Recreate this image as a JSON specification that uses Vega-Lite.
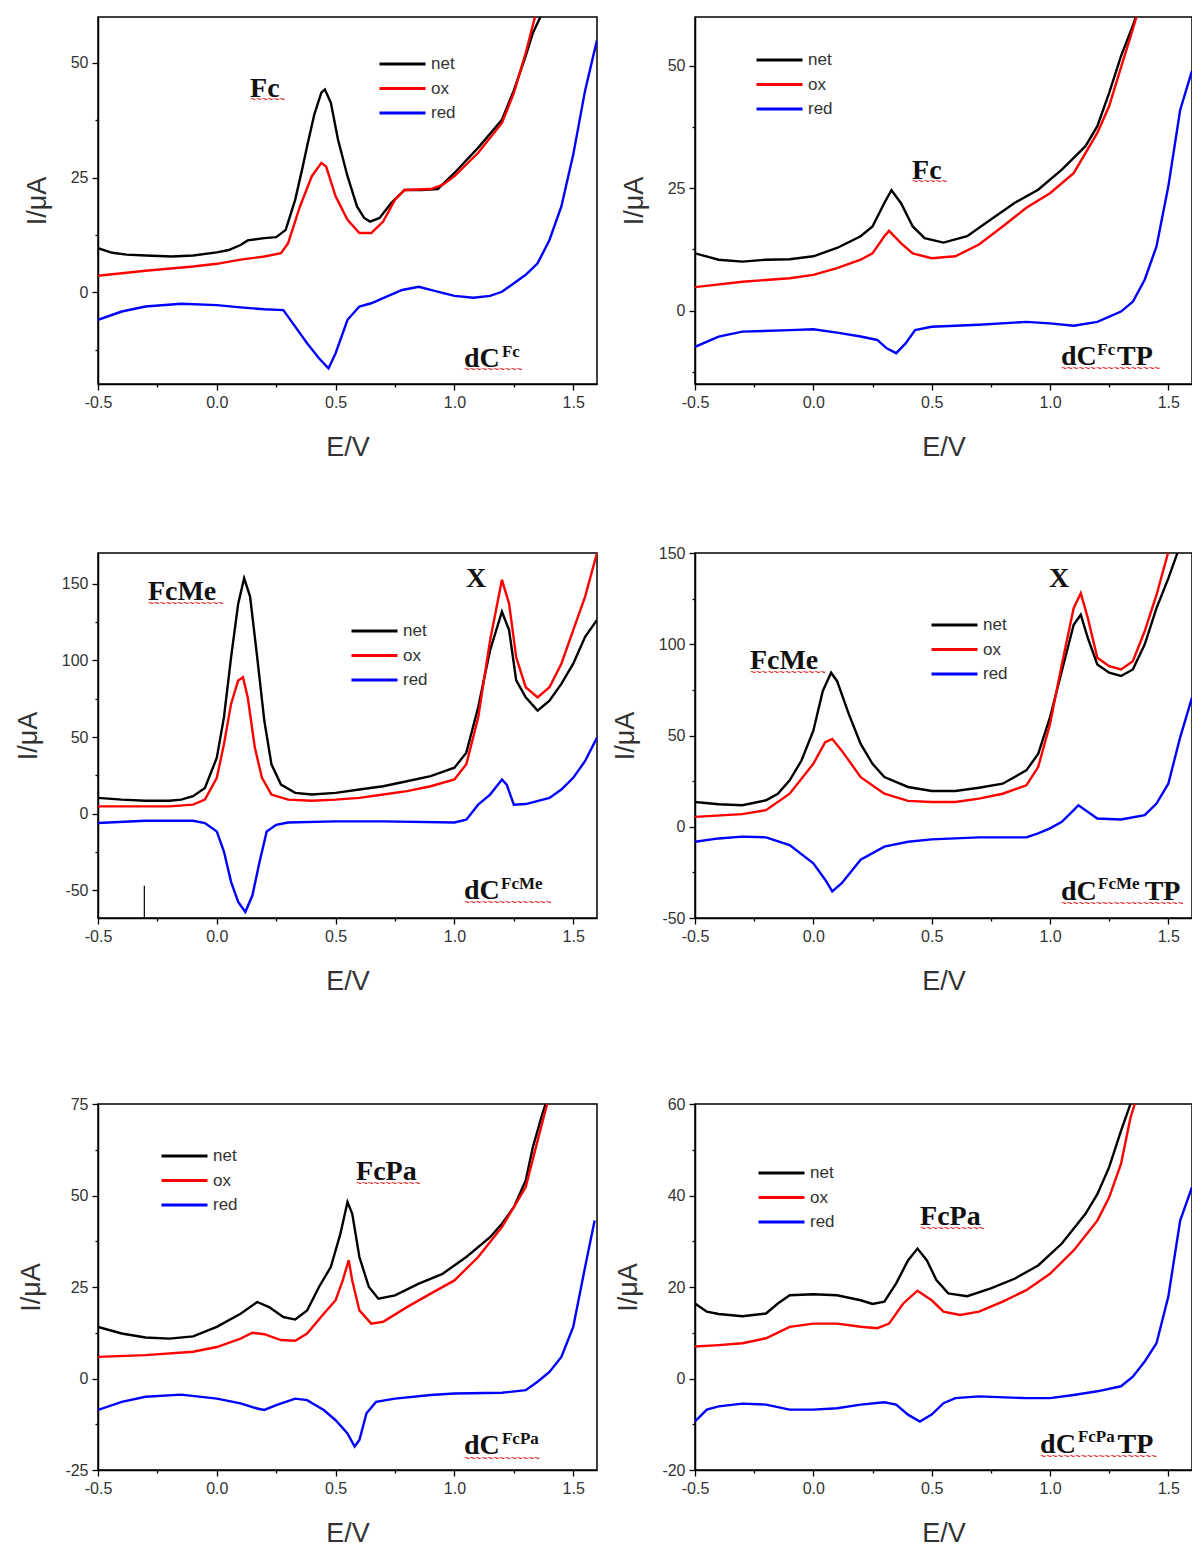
{
"$schema": "https://vega.github.io/schema/vega-lite/v6.json",
"background": "white",
"padding": {"left": 13, "top": 16, "right": 0, "bottom": 3},
"config": {
 "view": {"stroke": "#000", "strokeWidth": 1.5},
 "axis": {"grid": false, "domainColor": "#000", "domainWidth": 1.5, "tickColor": "#000", "tickWidth": 1.3, "labelFont": "Liberation Sans", "labelFontSize": 16, "labelColor": "#333", "labelPadding": 4, "labelOverlap": false, "labelFlush": false, "titleFont": "Liberation Sans", "titleFontSize": 27, "titleFontWeight": "normal", "titleColor": "#333"},
 "axisX": {"titlePadding": 24},
 "axisY": {"titlePadding": 19},
 "legend": {"labelFont": "Liberation Sans", "labelFontSize": 17, "labelColor": "#333", "symbolType": "stroke", "symbolStrokeWidth": 3, "symbolSize": 2116, "clipHeight": 17, "rowPadding": 6.5, "labelOffset": 4, "padding": 0}
},
"datasets": {
 "curves": [
  {"p":"A","s":"net","E":-0.5,"I":9.6},{"p":"A","s":"net","E":-0.44,"I":8.6},{"p":"A","s":"net","E":-0.38,"I":8.2},{"p":"A","s":"net","E":-0.3,"I":8.0},{"p":"A","s":"net","E":-0.19,"I":7.8},{"p":"A","s":"net","E":-0.1,"I":8.0},{"p":"A","s":"net","E":0.0,"I":8.7},{"p":"A","s":"net","E":0.05,"I":9.2},{"p":"A","s":"net","E":0.1,"I":10.3},{"p":"A","s":"net","E":0.13,"I":11.3},{"p":"A","s":"net","E":0.2,"I":11.8},{"p":"A","s":"net","E":0.25,"I":12.0},{"p":"A","s":"net","E":0.29,"I":13.6},{"p":"A","s":"net","E":0.33,"I":20.2},{"p":"A","s":"net","E":0.36,"I":27},{"p":"A","s":"net","E":0.38,"I":31.8},{"p":"A","s":"net","E":0.41,"I":38.7},{"p":"A","s":"net","E":0.44,"I":43.5},{"p":"A","s":"net","E":0.455,"I":44.2},{"p":"A","s":"net","E":0.48,"I":41.3},{"p":"A","s":"net","E":0.51,"I":33.3},{"p":"A","s":"net","E":0.55,"I":25.3},{"p":"A","s":"net","E":0.59,"I":18.7},{"p":"A","s":"net","E":0.62,"I":16.2},{"p":"A","s":"net","E":0.645,"I":15.4},{"p":"A","s":"net","E":0.685,"I":16.2},{"p":"A","s":"net","E":0.733,"I":19.4},{"p":"A","s":"net","E":0.79,"I":22.3},{"p":"A","s":"net","E":0.86,"I":22.3},{"p":"A","s":"net","E":0.93,"I":22.5},{"p":"A","s":"net","E":1.0,"I":26.0},{"p":"A","s":"net","E":1.105,"I":31.8},{"p":"A","s":"net","E":1.2,"I":37.6},{"p":"A","s":"net","E":1.25,"I":44},{"p":"A","s":"net","E":1.3,"I":51.5},{"p":"A","s":"net","E":1.33,"I":56.5},{"p":"A","s":"net","E":1.37,"I":60.9},{"p":"A","s":"net","E":1.4,"I":65},
  {"p":"A","s":"ox","E":-0.5,"I":3.6},{"p":"A","s":"ox","E":-0.3,"I":4.7},{"p":"A","s":"ox","E":-0.1,"I":5.6},{"p":"A","s":"ox","E":0.0,"I":6.2},{"p":"A","s":"ox","E":0.1,"I":7.1},{"p":"A","s":"ox","E":0.2,"I":7.8},{"p":"A","s":"ox","E":0.27,"I":8.5},{"p":"A","s":"ox","E":0.3,"I":10.7},{"p":"A","s":"ox","E":0.35,"I":18.7},{"p":"A","s":"ox","E":0.4,"I":25.3},{"p":"A","s":"ox","E":0.44,"I":28.2},{"p":"A","s":"ox","E":0.46,"I":27.4},{"p":"A","s":"ox","E":0.5,"I":20.9},{"p":"A","s":"ox","E":0.55,"I":15.8},{"p":"A","s":"ox","E":0.6,"I":12.9},{"p":"A","s":"ox","E":0.65,"I":12.9},{"p":"A","s":"ox","E":0.7,"I":15.4},{"p":"A","s":"ox","E":0.75,"I":20.2},{"p":"A","s":"ox","E":0.79,"I":22.3},{"p":"A","s":"ox","E":0.9,"I":22.5},{"p":"A","s":"ox","E":0.95,"I":23.4},{"p":"A","s":"ox","E":1.0,"I":25.3},{"p":"A","s":"ox","E":1.1,"I":30.4},{"p":"A","s":"ox","E":1.2,"I":36.9},{"p":"A","s":"ox","E":1.25,"I":43.4},{"p":"A","s":"ox","E":1.3,"I":52.2},{"p":"A","s":"ox","E":1.34,"I":60.2},{"p":"A","s":"ox","E":1.37,"I":65},
  {"p":"A","s":"red","E":-0.5,"I":-6.0},{"p":"A","s":"red","E":-0.4,"I":-4.2},{"p":"A","s":"red","E":-0.3,"I":-3.1},{"p":"A","s":"red","E":-0.15,"I":-2.5},{"p":"A","s":"red","E":0.0,"I":-2.8},{"p":"A","s":"red","E":0.1,"I":-3.3},{"p":"A","s":"red","E":0.2,"I":-3.7},{"p":"A","s":"red","E":0.28,"I":-3.9},{"p":"A","s":"red","E":0.33,"I":-7.5},{"p":"A","s":"red","E":0.38,"I":-11.1},{"p":"A","s":"red","E":0.43,"I":-14.4},{"p":"A","s":"red","E":0.47,"I":-16.6},{"p":"A","s":"red","E":0.5,"I":-13.3},{"p":"A","s":"red","E":0.55,"I":-6.0},{"p":"A","s":"red","E":0.6,"I":-3.1},{"p":"A","s":"red","E":0.65,"I":-2.4},{"p":"A","s":"red","E":0.7,"I":-1.3},{"p":"A","s":"red","E":0.78,"I":0.5},{"p":"A","s":"red","E":0.85,"I":1.2},{"p":"A","s":"red","E":0.9,"I":0.5},{"p":"A","s":"red","E":1.0,"I":-0.8},{"p":"A","s":"red","E":1.08,"I":-1.2},{"p":"A","s":"red","E":1.15,"I":-0.8},{"p":"A","s":"red","E":1.2,"I":0.1},{"p":"A","s":"red","E":1.3,"I":3.8},{"p":"A","s":"red","E":1.35,"I":6.3},{"p":"A","s":"red","E":1.4,"I":11.4},{"p":"A","s":"red","E":1.45,"I":18.7},{"p":"A","s":"red","E":1.5,"I":30},{"p":"A","s":"red","E":1.55,"I":44},{"p":"A","s":"red","E":1.6,"I":55},
  {"p":"B","s":"net","E":-0.5,"I":11.7},{"p":"B","s":"net","E":-0.4,"I":10.4},{"p":"B","s":"net","E":-0.3,"I":10.0},{"p":"B","s":"net","E":-0.2,"I":10.4},{"p":"B","s":"net","E":-0.1,"I":10.5},{"p":"B","s":"net","E":0.0,"I":11.1},{"p":"B","s":"net","E":0.1,"I":12.8},{"p":"B","s":"net","E":0.2,"I":15.2},{"p":"B","s":"net","E":0.25,"I":17.2},{"p":"B","s":"net","E":0.3,"I":22.0},{"p":"B","s":"net","E":0.33,"I":24.6},{"p":"B","s":"net","E":0.37,"I":22.0},{"p":"B","s":"net","E":0.42,"I":17.2},{"p":"B","s":"net","E":0.47,"I":14.8},{"p":"B","s":"net","E":0.55,"I":13.9},{"p":"B","s":"net","E":0.65,"I":15.2},{"p":"B","s":"net","E":0.75,"I":18.6},{"p":"B","s":"net","E":0.85,"I":22.0},{"p":"B","s":"net","E":0.95,"I":24.7},{"p":"B","s":"net","E":1.05,"I":28.8},{"p":"B","s":"net","E":1.15,"I":33.6},{"p":"B","s":"net","E":1.2,"I":37.7},{"p":"B","s":"net","E":1.25,"I":44.5},{"p":"B","s":"net","E":1.3,"I":52.0},{"p":"B","s":"net","E":1.35,"I":58.2},{"p":"B","s":"net","E":1.38,"I":62.5},
  {"p":"B","s":"ox","E":-0.5,"I":4.8},{"p":"B","s":"ox","E":-0.3,"I":5.9},{"p":"B","s":"ox","E":-0.1,"I":6.6},{"p":"B","s":"ox","E":0.0,"I":7.3},{"p":"B","s":"ox","E":0.1,"I":8.7},{"p":"B","s":"ox","E":0.2,"I":10.4},{"p":"B","s":"ox","E":0.25,"I":11.7},{"p":"B","s":"ox","E":0.3,"I":15.2},{"p":"B","s":"ox","E":0.32,"I":16.3},{"p":"B","s":"ox","E":0.37,"I":13.8},{"p":"B","s":"ox","E":0.42,"I":11.7},{"p":"B","s":"ox","E":0.5,"I":10.7},{"p":"B","s":"ox","E":0.6,"I":11.1},{"p":"B","s":"ox","E":0.7,"I":13.5},{"p":"B","s":"ox","E":0.8,"I":17.2},{"p":"B","s":"ox","E":0.9,"I":21.0},{"p":"B","s":"ox","E":1.0,"I":24.0},{"p":"B","s":"ox","E":1.1,"I":28.1},{"p":"B","s":"ox","E":1.2,"I":36.3},{"p":"B","s":"ox","E":1.25,"I":41.8},{"p":"B","s":"ox","E":1.3,"I":49.7},{"p":"B","s":"ox","E":1.35,"I":57.5},{"p":"B","s":"ox","E":1.38,"I":62.5},
  {"p":"B","s":"red","E":-0.5,"I":-7.4},{"p":"B","s":"red","E":-0.4,"I":-5.3},{"p":"B","s":"red","E":-0.3,"I":-4.3},{"p":"B","s":"red","E":-0.1,"I":-4.0},{"p":"B","s":"red","E":0.0,"I":-3.8},{"p":"B","s":"red","E":0.1,"I":-4.5},{"p":"B","s":"red","E":0.2,"I":-5.3},{"p":"B","s":"red","E":0.27,"I":-6.0},{"p":"B","s":"red","E":0.31,"I":-7.7},{"p":"B","s":"red","E":0.35,"I":-8.7},{"p":"B","s":"red","E":0.39,"I":-6.7},{"p":"B","s":"red","E":0.43,"I":-4.0},{"p":"B","s":"red","E":0.5,"I":-3.3},{"p":"B","s":"red","E":0.7,"I":-2.9},{"p":"B","s":"red","E":0.9,"I":-2.3},{"p":"B","s":"red","E":1.0,"I":-2.6},{"p":"B","s":"red","E":1.1,"I":-3.1},{"p":"B","s":"red","E":1.2,"I":-2.3},{"p":"B","s":"red","E":1.3,"I":-0.2},{"p":"B","s":"red","E":1.35,"I":1.8},{"p":"B","s":"red","E":1.4,"I":6.3},{"p":"B","s":"red","E":1.45,"I":13.1},{"p":"B","s":"red","E":1.5,"I":25.4},{"p":"B","s":"red","E":1.55,"I":41},{"p":"B","s":"red","E":1.6,"I":49},
  {"p":"C","s":"net","E":-0.5,"I":10.3},{"p":"C","s":"net","E":-0.4,"I":9.2},{"p":"C","s":"net","E":-0.3,"I":8.5},{"p":"C","s":"net","E":-0.2,"I":8.5},{"p":"C","s":"net","E":-0.15,"I":9.2},{"p":"C","s":"net","E":-0.1,"I":11.4},{"p":"C","s":"net","E":-0.05,"I":16.8},{"p":"C","s":"net","E":0.0,"I":36.5},{"p":"C","s":"net","E":0.03,"I":62.8},{"p":"C","s":"net","E":0.06,"I":102},{"p":"C","s":"net","E":0.09,"I":137},{"p":"C","s":"net","E":0.115,"I":153.6},{"p":"C","s":"net","E":0.14,"I":141.6},{"p":"C","s":"net","E":0.17,"I":102},{"p":"C","s":"net","E":0.2,"I":60.6},{"p":"C","s":"net","E":0.23,"I":32.2},{"p":"C","s":"net","E":0.27,"I":19},{"p":"C","s":"net","E":0.33,"I":13.6},{"p":"C","s":"net","E":0.4,"I":12.5},{"p":"C","s":"net","E":0.5,"I":13.6},{"p":"C","s":"net","E":0.6,"I":15.8},{"p":"C","s":"net","E":0.7,"I":17.9},{"p":"C","s":"net","E":0.8,"I":21.2},{"p":"C","s":"net","E":0.9,"I":24.5},{"p":"C","s":"net","E":1.0,"I":30},{"p":"C","s":"net","E":1.05,"I":39.8},{"p":"C","s":"net","E":1.1,"I":69.4},{"p":"C","s":"net","E":1.15,"I":106.6},{"p":"C","s":"net","E":1.2,"I":131.7},{"p":"C","s":"net","E":1.23,"I":119.7},{"p":"C","s":"net","E":1.26,"I":86.9},{"p":"C","s":"net","E":1.3,"I":75.9},{"p":"C","s":"net","E":1.35,"I":67.2},{"p":"C","s":"net","E":1.4,"I":73.7},{"p":"C","s":"net","E":1.45,"I":84.7},{"p":"C","s":"net","E":1.5,"I":97.8},{"p":"C","s":"net","E":1.55,"I":115.3},{"p":"C","s":"net","E":1.6,"I":126.3},
  {"p":"C","s":"ox","E":-0.5,"I":4.8},{"p":"C","s":"ox","E":-0.2,"I":4.8},{"p":"C","s":"ox","E":-0.1,"I":5.9},{"p":"C","s":"ox","E":-0.05,"I":9.2},{"p":"C","s":"ox","E":0.0,"I":23.4},{"p":"C","s":"ox","E":0.03,"I":45.3},{"p":"C","s":"ox","E":0.06,"I":71.6},{"p":"C","s":"ox","E":0.09,"I":86.9},{"p":"C","s":"ox","E":0.11,"I":89},{"p":"C","s":"ox","E":0.13,"I":75.9},{"p":"C","s":"ox","E":0.16,"I":43.1},{"p":"C","s":"ox","E":0.19,"I":23.4},{"p":"C","s":"ox","E":0.23,"I":12.5},{"p":"C","s":"ox","E":0.3,"I":9.2},{"p":"C","s":"ox","E":0.4,"I":8.5},{"p":"C","s":"ox","E":0.5,"I":9.2},{"p":"C","s":"ox","E":0.6,"I":10.3},{"p":"C","s":"ox","E":0.7,"I":12.5},{"p":"C","s":"ox","E":0.8,"I":14.7},{"p":"C","s":"ox","E":0.9,"I":17.9},{"p":"C","s":"ox","E":1.0,"I":22.3},{"p":"C","s":"ox","E":1.05,"I":32.2},{"p":"C","s":"ox","E":1.1,"I":62.8},{"p":"C","s":"ox","E":1.15,"I":113},{"p":"C","s":"ox","E":1.2,"I":152.5},{"p":"C","s":"ox","E":1.23,"I":137},{"p":"C","s":"ox","E":1.26,"I":102},{"p":"C","s":"ox","E":1.3,"I":82.5},{"p":"C","s":"ox","E":1.35,"I":75.9},{"p":"C","s":"ox","E":1.4,"I":82.5},{"p":"C","s":"ox","E":1.45,"I":97.8},{"p":"C","s":"ox","E":1.5,"I":119.7},{"p":"C","s":"ox","E":1.55,"I":141.6},{"p":"C","s":"ox","E":1.6,"I":170},
  {"p":"C","s":"red","E":-0.5,"I":-6.1},{"p":"C","s":"red","E":-0.3,"I":-4.6},{"p":"C","s":"red","E":-0.1,"I":-4.6},{"p":"C","s":"red","E":-0.05,"I":-6.1},{"p":"C","s":"red","E":0.0,"I":-11.6},{"p":"C","s":"red","E":0.03,"I":-24.7},{"p":"C","s":"red","E":0.06,"I":-44.4},{"p":"C","s":"red","E":0.09,"I":-57.5},{"p":"C","s":"red","E":0.12,"I":-64.1},{"p":"C","s":"red","E":0.15,"I":-53.2},{"p":"C","s":"red","E":0.18,"I":-31.3},{"p":"C","s":"red","E":0.21,"I":-11.6},{"p":"C","s":"red","E":0.25,"I":-7.2},{"p":"C","s":"red","E":0.3,"I":-5.7},{"p":"C","s":"red","E":0.5,"I":-5},{"p":"C","s":"red","E":0.7,"I":-5},{"p":"C","s":"red","E":1.0,"I":-5.7},{"p":"C","s":"red","E":1.05,"I":-3.9},{"p":"C","s":"red","E":1.1,"I":5.9},{"p":"C","s":"red","E":1.15,"I":12.5},{"p":"C","s":"red","E":1.2,"I":22.3},{"p":"C","s":"red","E":1.22,"I":19},{"p":"C","s":"red","E":1.25,"I":5.9},{"p":"C","s":"red","E":1.3,"I":6.3},{"p":"C","s":"red","E":1.4,"I":10.3},{"p":"C","s":"red","E":1.45,"I":15.8},{"p":"C","s":"red","E":1.5,"I":23.4},{"p":"C","s":"red","E":1.55,"I":34.4},{"p":"C","s":"red","E":1.6,"I":49.7},
  {"p":"D","s":"net","E":-0.5,"I":13.6},{"p":"D","s":"net","E":-0.4,"I":12.3},{"p":"D","s":"net","E":-0.3,"I":11.8},{"p":"D","s":"net","E":-0.2,"I":14.5},{"p":"D","s":"net","E":-0.15,"I":18.1},{"p":"D","s":"net","E":-0.1,"I":25.4},{"p":"D","s":"net","E":-0.05,"I":36.3},{"p":"D","s":"net","E":0.0,"I":52.6},{"p":"D","s":"net","E":0.04,"I":74.4},{"p":"D","s":"net","E":0.075,"I":84.4},{"p":"D","s":"net","E":0.1,"I":79.9},{"p":"D","s":"net","E":0.15,"I":61.7},{"p":"D","s":"net","E":0.2,"I":45.4},{"p":"D","s":"net","E":0.25,"I":34.5},{"p":"D","s":"net","E":0.3,"I":27.2},{"p":"D","s":"net","E":0.4,"I":21.8},{"p":"D","s":"net","E":0.5,"I":19.6},{"p":"D","s":"net","E":0.6,"I":19.6},{"p":"D","s":"net","E":0.7,"I":21.4},{"p":"D","s":"net","E":0.8,"I":23.6},{"p":"D","s":"net","E":0.9,"I":30.9},{"p":"D","s":"net","E":0.95,"I":39.9},{"p":"D","s":"net","E":1.0,"I":59.9},{"p":"D","s":"net","E":1.05,"I":85.3},{"p":"D","s":"net","E":1.1,"I":110.7},{"p":"D","s":"net","E":1.13,"I":116.2},{"p":"D","s":"net","E":1.16,"I":103.4},{"p":"D","s":"net","E":1.2,"I":88.9},{"p":"D","s":"net","E":1.25,"I":84.4},{"p":"D","s":"net","E":1.3,"I":82.6},{"p":"D","s":"net","E":1.35,"I":86.2},{"p":"D","s":"net","E":1.4,"I":99.8},{"p":"D","s":"net","E":1.45,"I":119.8},{"p":"D","s":"net","E":1.5,"I":136.1},{"p":"D","s":"net","E":1.54,"I":150.6},{"p":"D","s":"net","E":1.56,"I":158},
  {"p":"D","s":"ox","E":-0.5,"I":5.4},{"p":"D","s":"ox","E":-0.3,"I":6.9},{"p":"D","s":"ox","E":-0.2,"I":9.1},{"p":"D","s":"ox","E":-0.1,"I":18.1},{"p":"D","s":"ox","E":0.0,"I":34.5},{"p":"D","s":"ox","E":0.05,"I":46.3},{"p":"D","s":"ox","E":0.08,"I":48.1},{"p":"D","s":"ox","E":0.12,"I":41.7},{"p":"D","s":"ox","E":0.2,"I":27.2},{"p":"D","s":"ox","E":0.3,"I":18.1},{"p":"D","s":"ox","E":0.4,"I":14.2},{"p":"D","s":"ox","E":0.5,"I":13.6},{"p":"D","s":"ox","E":0.6,"I":13.6},{"p":"D","s":"ox","E":0.7,"I":15.4},{"p":"D","s":"ox","E":0.8,"I":18.1},{"p":"D","s":"ox","E":0.9,"I":22.7},{"p":"D","s":"ox","E":0.95,"I":32.7},{"p":"D","s":"ox","E":1.0,"I":56.3},{"p":"D","s":"ox","E":1.05,"I":88.9},{"p":"D","s":"ox","E":1.1,"I":119.8},{"p":"D","s":"ox","E":1.13,"I":128},{"p":"D","s":"ox","E":1.16,"I":114.3},{"p":"D","s":"ox","E":1.2,"I":92.6},{"p":"D","s":"ox","E":1.25,"I":88},{"p":"D","s":"ox","E":1.3,"I":86.2},{"p":"D","s":"ox","E":1.35,"I":90.7},{"p":"D","s":"ox","E":1.4,"I":107.1},{"p":"D","s":"ox","E":1.45,"I":127},{"p":"D","s":"ox","E":1.5,"I":150.6},{"p":"D","s":"ox","E":1.52,"I":158},
  {"p":"D","s":"red","E":-0.5,"I":-8.2},{"p":"D","s":"red","E":-0.4,"I":-6.4},{"p":"D","s":"red","E":-0.3,"I":-5.4},{"p":"D","s":"red","E":-0.2,"I":-5.8},{"p":"D","s":"red","E":-0.1,"I":-10},{"p":"D","s":"red","E":0.0,"I":-20},{"p":"D","s":"red","E":0.05,"I":-29},{"p":"D","s":"red","E":0.08,"I":-35.4},{"p":"D","s":"red","E":0.12,"I":-30.9},{"p":"D","s":"red","E":0.2,"I":-18.1},{"p":"D","s":"red","E":0.3,"I":-10.9},{"p":"D","s":"red","E":0.4,"I":-8.2},{"p":"D","s":"red","E":0.5,"I":-6.9},{"p":"D","s":"red","E":0.7,"I":-5.8},{"p":"D","s":"red","E":0.9,"I":-5.8},{"p":"D","s":"red","E":0.95,"I":-3.6},{"p":"D","s":"red","E":1.0,"I":-0.9},{"p":"D","s":"red","E":1.05,"I":2.7},{"p":"D","s":"red","E":1.1,"I":9.1},{"p":"D","s":"red","E":1.12,"I":11.8},{"p":"D","s":"red","E":1.15,"I":9.1},{"p":"D","s":"red","E":1.2,"I":4.5},{"p":"D","s":"red","E":1.3,"I":4.0},{"p":"D","s":"red","E":1.4,"I":6.4},{"p":"D","s":"red","E":1.45,"I":12.7},{"p":"D","s":"red","E":1.5,"I":23.6},{"p":"D","s":"red","E":1.55,"I":49},{"p":"D","s":"red","E":1.6,"I":70.8},
  {"p":"E","s":"net","E":-0.5,"I":14.1},{"p":"E","s":"net","E":-0.4,"I":12.3},{"p":"E","s":"net","E":-0.3,"I":11.2},{"p":"E","s":"net","E":-0.2,"I":10.9},{"p":"E","s":"net","E":-0.1,"I":11.5},{"p":"E","s":"net","E":0.0,"I":14.1},{"p":"E","s":"net","E":0.1,"I":17.7},{"p":"E","s":"net","E":0.17,"I":20.9},{"p":"E","s":"net","E":0.22,"I":19.5},{"p":"E","s":"net","E":0.28,"I":16.8},{"p":"E","s":"net","E":0.33,"I":16.1},{"p":"E","s":"net","E":0.38,"I":18.6},{"p":"E","s":"net","E":0.43,"I":25},{"p":"E","s":"net","E":0.48,"I":30.5},{"p":"E","s":"net","E":0.52,"I":39.5},{"p":"E","s":"net","E":0.55,"I":48.2},{"p":"E","s":"net","E":0.57,"I":45},{"p":"E","s":"net","E":0.6,"I":33.2},{"p":"E","s":"net","E":0.64,"I":25},{"p":"E","s":"net","E":0.68,"I":21.8},{"p":"E","s":"net","E":0.75,"I":22.7},{"p":"E","s":"net","E":0.85,"I":25.9},{"p":"E","s":"net","E":0.95,"I":28.6},{"p":"E","s":"net","E":1.05,"I":33.2},{"p":"E","s":"net","E":1.15,"I":38.6},{"p":"E","s":"net","E":1.2,"I":42.3},{"p":"E","s":"net","E":1.25,"I":46.8},{"p":"E","s":"net","E":1.3,"I":54.1},{"p":"E","s":"net","E":1.33,"I":63.2},{"p":"E","s":"net","E":1.37,"I":72.3},{"p":"E","s":"net","E":1.41,"I":80},
  {"p":"E","s":"ox","E":-0.5,"I":5.9},{"p":"E","s":"ox","E":-0.3,"I":6.4},{"p":"E","s":"ox","E":-0.1,"I":7.3},{"p":"E","s":"ox","E":0.0,"I":8.6},{"p":"E","s":"ox","E":0.1,"I":10.9},{"p":"E","s":"ox","E":0.15,"I":12.5},{"p":"E","s":"ox","E":0.2,"I":12.1},{"p":"E","s":"ox","E":0.27,"I":10.5},{"p":"E","s":"ox","E":0.33,"I":10.3},{"p":"E","s":"ox","E":0.38,"I":12.3},{"p":"E","s":"ox","E":0.45,"I":17.7},{"p":"E","s":"ox","E":0.5,"I":21.4},{"p":"E","s":"ox","E":0.53,"I":26.8},{"p":"E","s":"ox","E":0.555,"I":32.3},{"p":"E","s":"ox","E":0.57,"I":26.8},{"p":"E","s":"ox","E":0.6,"I":18.6},{"p":"E","s":"ox","E":0.65,"I":15},{"p":"E","s":"ox","E":0.7,"I":15.5},{"p":"E","s":"ox","E":0.8,"I":19.5},{"p":"E","s":"ox","E":0.9,"I":23.2},{"p":"E","s":"ox","E":1.0,"I":26.8},{"p":"E","s":"ox","E":1.1,"I":33.2},{"p":"E","s":"ox","E":1.2,"I":41.4},{"p":"E","s":"ox","E":1.25,"I":46.8},{"p":"E","s":"ox","E":1.3,"I":52.3},{"p":"E","s":"ox","E":1.35,"I":65},{"p":"E","s":"ox","E":1.39,"I":75},{"p":"E","s":"ox","E":1.41,"I":80},
  {"p":"E","s":"red","E":-0.5,"I":-8.6},{"p":"E","s":"red","E":-0.4,"I":-6.4},{"p":"E","s":"red","E":-0.3,"I":-5},{"p":"E","s":"red","E":-0.15,"I":-4.4},{"p":"E","s":"red","E":0.0,"I":-5.5},{"p":"E","s":"red","E":0.1,"I":-6.8},{"p":"E","s":"red","E":0.17,"I":-8.2},{"p":"E","s":"red","E":0.2,"I":-8.6},{"p":"E","s":"red","E":0.25,"I":-7.3},{"p":"E","s":"red","E":0.33,"I":-5.5},{"p":"E","s":"red","E":0.38,"I":-5.9},{"p":"E","s":"red","E":0.45,"I":-8.6},{"p":"E","s":"red","E":0.5,"I":-11.4},{"p":"E","s":"red","E":0.55,"I":-15},{"p":"E","s":"red","E":0.58,"I":-18.6},{"p":"E","s":"red","E":0.6,"I":-16.8},{"p":"E","s":"red","E":0.63,"I":-9.5},{"p":"E","s":"red","E":0.67,"I":-6.4},{"p":"E","s":"red","E":0.75,"I":-5.5},{"p":"E","s":"red","E":0.9,"I":-4.5},{"p":"E","s":"red","E":1.0,"I":-4.1},{"p":"E","s":"red","E":1.2,"I":-3.9},{"p":"E","s":"red","E":1.3,"I":-3.2},{"p":"E","s":"red","E":1.35,"I":-0.9},{"p":"E","s":"red","E":1.4,"I":1.8},{"p":"E","s":"red","E":1.45,"I":5.9},{"p":"E","s":"red","E":1.5,"I":14.1},{"p":"E","s":"red","E":1.55,"I":30.5},{"p":"E","s":"red","E":1.59,"I":43.2},
  {"p":"F","s":"net","E":-0.5,"I":16.4},{"p":"F","s":"net","E":-0.45,"I":14.6},{"p":"F","s":"net","E":-0.4,"I":14.1},{"p":"F","s":"net","E":-0.3,"I":13.6},{"p":"F","s":"net","E":-0.2,"I":14.2},{"p":"F","s":"net","E":-0.15,"I":16.4},{"p":"F","s":"net","E":-0.1,"I":18.2},{"p":"F","s":"net","E":0.0,"I":18.4},{"p":"F","s":"net","E":0.1,"I":18.2},{"p":"F","s":"net","E":0.2,"I":17.1},{"p":"F","s":"net","E":0.25,"I":16.3},{"p":"F","s":"net","E":0.3,"I":16.8},{"p":"F","s":"net","E":0.35,"I":20.8},{"p":"F","s":"net","E":0.4,"I":25.8},{"p":"F","s":"net","E":0.44,"I":28.4},{"p":"F","s":"net","E":0.48,"I":25.8},{"p":"F","s":"net","E":0.52,"I":21.5},{"p":"F","s":"net","E":0.57,"I":18.6},{"p":"F","s":"net","E":0.65,"I":18},{"p":"F","s":"net","E":0.75,"I":19.7},{"p":"F","s":"net","E":0.85,"I":21.8},{"p":"F","s":"net","E":0.95,"I":24.7},{"p":"F","s":"net","E":1.05,"I":29.5},{"p":"F","s":"net","E":1.15,"I":36},{"p":"F","s":"net","E":1.2,"I":40.3},{"p":"F","s":"net","E":1.25,"I":46.2},{"p":"F","s":"net","E":1.3,"I":54.1},{"p":"F","s":"net","E":1.34,"I":60},{"p":"F","s":"net","E":1.36,"I":64},
  {"p":"F","s":"ox","E":-0.5,"I":7},{"p":"F","s":"ox","E":-0.4,"I":7.3},{"p":"F","s":"ox","E":-0.3,"I":7.7},{"p":"F","s":"ox","E":-0.2,"I":8.8},{"p":"F","s":"ox","E":-0.1,"I":11.3},{"p":"F","s":"ox","E":0.0,"I":12},{"p":"F","s":"ox","E":0.1,"I":12},{"p":"F","s":"ox","E":0.2,"I":11.3},{"p":"F","s":"ox","E":0.27,"I":11},{"p":"F","s":"ox","E":0.32,"I":12},{"p":"F","s":"ox","E":0.38,"I":16.4},{"p":"F","s":"ox","E":0.44,"I":19.2},{"p":"F","s":"ox","E":0.5,"I":17.1},{"p":"F","s":"ox","E":0.55,"I":14.6},{"p":"F","s":"ox","E":0.62,"I":13.9},{"p":"F","s":"ox","E":0.7,"I":14.6},{"p":"F","s":"ox","E":0.8,"I":16.8},{"p":"F","s":"ox","E":0.9,"I":19.3},{"p":"F","s":"ox","E":1.0,"I":22.9},{"p":"F","s":"ox","E":1.1,"I":28},{"p":"F","s":"ox","E":1.2,"I":34.5},{"p":"F","s":"ox","E":1.25,"I":39.6},{"p":"F","s":"ox","E":1.3,"I":46.9},{"p":"F","s":"ox","E":1.34,"I":57},{"p":"F","s":"ox","E":1.36,"I":60.3},{"p":"F","s":"ox","E":1.38,"I":64},
  {"p":"F","s":"red","E":-0.5,"I":-9.4},{"p":"F","s":"red","E":-0.45,"I":-6.8},{"p":"F","s":"red","E":-0.4,"I":-6.1},{"p":"F","s":"red","E":-0.3,"I":-5.5},{"p":"F","s":"red","E":-0.2,"I":-5.7},{"p":"F","s":"red","E":-0.1,"I":-6.8},{"p":"F","s":"red","E":0.0,"I":-6.8},{"p":"F","s":"red","E":0.1,"I":-6.5},{"p":"F","s":"red","E":0.2,"I":-5.7},{"p":"F","s":"red","E":0.3,"I":-5.2},{"p":"F","s":"red","E":0.35,"I":-5.7},{"p":"F","s":"red","E":0.4,"I":-7.9},{"p":"F","s":"red","E":0.45,"I":-9.4},{"p":"F","s":"red","E":0.5,"I":-7.9},{"p":"F","s":"red","E":0.55,"I":-5.4},{"p":"F","s":"red","E":0.6,"I":-4.3},{"p":"F","s":"red","E":0.7,"I":-3.9},{"p":"F","s":"red","E":0.9,"I":-4.3},{"p":"F","s":"red","E":1.0,"I":-4.3},{"p":"F","s":"red","E":1.1,"I":-3.6},{"p":"F","s":"red","E":1.2,"I":-2.8},{"p":"F","s":"red","E":1.3,"I":-1.7},{"p":"F","s":"red","E":1.35,"I":0.4},{"p":"F","s":"red","E":1.4,"I":3.7},{"p":"F","s":"red","E":1.45,"I":7.7},{"p":"F","s":"red","E":1.5,"I":17.9},{"p":"F","s":"red","E":1.55,"I":34.5},{"p":"F","s":"red","E":1.6,"I":41.8}
 ],
 "notes": [
  {"p":"A","k":"big","E":0.14,"I":42.6,"t":"Fc"},{"p":"A","k":"wave","E":0.14,"I":41.9,"t":"~~~~~~"},
  {"p":"A","k":"big","E":1.04,"I":-16.3,"t":"dC"},{"p":"A","k":"sup","E":1.2,"I":-14.1,"t":"Fc"},{"p":"A","k":"wave","E":1.04,"I":-16.9,"t":"~~~~~~~~~~"},
  {"p":"B","k":"big","E":0.417,"I":26.9,"t":"Fc"},{"p":"B","k":"wave","E":0.417,"I":26.3,"t":"~~~~~~"},
  {"p":"B","k":"big","E":1.046,"I":-11.1,"t":"dC"},{"p":"B","k":"sup","E":1.2,"I":-9.1,"t":"Fc"},{"p":"B","k":"big","E":1.283,"I":-11.1,"t":"TP"},{"p":"B","k":"wave","E":1.046,"I":-11.9,"t":"~~~~~~~~~~~~~~~~~"},
  {"p":"C","k":"big","E":-0.29,"I":139.3,"t":"FcMe"},{"p":"C","k":"wave","E":-0.29,"I":136.7,"t":"~~~~~~~~~~~~~"},{"p":"C","k":"big","E":1.049,"I":147.8,"t":"X"},
  {"p":"C","k":"big","E":1.04,"I":-55.6,"t":"dC"},{"p":"C","k":"sup","E":1.196,"I":-49.1,"t":"FcMe"},{"p":"C","k":"wave","E":1.04,"I":-58.3,"t":"~~~~~~~~~~~~~~~"},
  {"p":"D","k":"big","E":-0.268,"I":86.4,"t":"FcMe"},{"p":"D","k":"wave","E":-0.268,"I":84.2,"t":"~~~~~~~~~~~~~"},{"p":"D","k":"big","E":0.996,"I":131.4,"t":"X"},
  {"p":"D","k":"big","E":1.046,"I":-40.1,"t":"dC"},{"p":"D","k":"sup","E":1.203,"I":-34.1,"t":"FcMe"},{"p":"D","k":"big","E":1.4,"I":-40.1,"t":"TP"},{"p":"D","k":"wave","E":1.046,"I":-42.3,"t":"~~~~~~~~~~~~~~~~~~~~~"},
  {"p":"E","k":"big","E":0.586,"I":54.2,"t":"FcPa"},{"p":"E","k":"wave","E":0.586,"I":53.1,"t":"~~~~~~~~~~~"},
  {"p":"E","k":"big","E":1.04,"I":-20.6,"t":"dC"},{"p":"E","k":"sup","E":1.2,"I":-17.9,"t":"FcPa"},{"p":"E","k":"wave","E":1.04,"I":-22.0,"t":"~~~~~~~~~~~~~"},
  {"p":"F","k":"big","E":0.451,"I":33.6,"t":"FcPa"},{"p":"F","k":"wave","E":0.451,"I":32.7,"t":"~~~~~~~~~~~"},
  {"p":"F","k":"big","E":0.958,"I":-16.3,"t":"dC"},{"p":"F","k":"sup","E":1.118,"I":-13.9,"t":"FcPa"},{"p":"F","k":"big","E":1.285,"I":-16.3,"t":"TP"},{"p":"F","k":"wave","E":0.958,"I":-17.1,"t":"~~~~~~~~~~~~~~~~~~~~"}
 ],
 "marks": [{"p":"C","E":-0.305,"I":-47,"I2":-68}]
},
"spacing": 83,
"resolve": {"scale": {"color": "independent"}, "legend": {"color": "independent"}},
"vconcat": [
 {"hconcat": [
  {"width": 499, "height": 367, "layer": [
   {"data": {"name": "curves"}, "transform": [{"filter": "datum.p == 'A'"}], "mark": {"type": "line", "clip": true, "strokeWidth": 2.4},
    "encoding": {
     "x": {"field": "E", "type": "quantitative", "title": "E/V", "scale": {"domain": [-0.5, 1.6], "nice": false, "zero": false}, "axis": {"values": [-0.5,-0.25,0,0.25,0.5,0.75,1,1.25,1.5], "labelExpr": "datum.value * 2 == round(datum.value * 2) ? replace(format(datum.value, '.1f'), '−', '-') : ''", "tickSize": {"condition": {"test": "datum.value * 2 == round(datum.value * 2)", "value": 6}, "value": 3}}},
     "y": {"field": "I", "type": "quantitative", "title": "I/μA", "scale": {"domain": [-20, 60], "nice": false, "zero": false}, "axis": {"values": [-12.5,0,12.5,25,37.5,50], "labelExpr": "datum.value % 25 == 0 ? '' + datum.value : ''", "tickSize": {"condition": {"test": "datum.value % 25 == 0", "value": 6}, "value": 3}}},
     "color": {"field": "s", "type": "nominal", "scale": {"domain": ["net","ox","red"], "range": ["#000000","#ff0000","#0000ff"]}, "legend": {"orient": "none", "legendX": 280, "legendY": 38.5, "title": null}}}},
   {"data": {"name": "notes"}, "transform": [{"filter": "datum.p == 'A' && datum.k == 'big'"}], "mark": {"type": "text", "font": "Liberation Serif", "fontWeight": "bold", "fontSize": 28, "align": "left", "baseline": "alphabetic", "color": "#111"},
    "encoding": {"x": {"field": "E", "type": "quantitative", "title": "E/V"}, "y": {"field": "I", "type": "quantitative", "title": "I/μA"}, "text": {"field": "t"}}},
   {"data": {"name": "notes"}, "transform": [{"filter": "datum.p == 'A' && datum.k == 'sup'"}], "mark": {"type": "text", "font": "Liberation Serif", "fontWeight": "bold", "fontSize": 17, "align": "left", "baseline": "alphabetic", "color": "#111"},
    "encoding": {"x": {"field": "E", "type": "quantitative", "title": "E/V"}, "y": {"field": "I", "type": "quantitative", "title": "I/μA"}, "text": {"field": "t"}}},
   {"data": {"name": "notes"}, "transform": [{"filter": "datum.p == 'A' && datum.k == 'wave'"}], "mark": {"type": "text", "font": "Liberation Sans", "fontSize": 10, "align": "left", "baseline": "middle", "color": "#e00000"},
    "encoding": {"x": {"field": "E", "type": "quantitative", "title": "E/V"}, "y": {"field": "I", "type": "quantitative", "title": "I/μA"}, "text": {"field": "t"}}}
  ]},
  {"width": 497, "height": 367, "layer": [
   {"data": {"name": "curves"}, "transform": [{"filter": "datum.p == 'B'"}], "mark": {"type": "line", "clip": true, "strokeWidth": 2.4},
    "encoding": {
     "x": {"field": "E", "type": "quantitative", "title": "E/V", "scale": {"domain": [-0.5, 1.6], "nice": false, "zero": false}, "axis": {"values": [-0.5,-0.25,0,0.25,0.5,0.75,1,1.25,1.5], "labelExpr": "datum.value * 2 == round(datum.value * 2) ? replace(format(datum.value, '.1f'), '−', '-') : ''", "tickSize": {"condition": {"test": "datum.value * 2 == round(datum.value * 2)", "value": 6}, "value": 3}}},
     "y": {"field": "I", "type": "quantitative", "title": "I/μA", "scale": {"domain": [-15, 60], "nice": false, "zero": false}, "axis": {"values": [-12.5,0,12.5,25,37.5,50], "labelExpr": "datum.value % 25 == 0 ? '' + datum.value : ''", "tickSize": {"condition": {"test": "datum.value % 25 == 0", "value": 6}, "value": 3}}},
     "color": {"field": "s", "type": "nominal", "scale": {"domain": ["net","ox","red"], "range": ["#000000","#ff0000","#0000ff"]}, "legend": {"orient": "none", "legendX": 60, "legendY": 34.5, "title": null}}}},
   {"data": {"name": "notes"}, "transform": [{"filter": "datum.p == 'B' && datum.k == 'big'"}], "mark": {"type": "text", "font": "Liberation Serif", "fontWeight": "bold", "fontSize": 28, "align": "left", "baseline": "alphabetic", "color": "#111"},
    "encoding": {"x": {"field": "E", "type": "quantitative", "title": "E/V"}, "y": {"field": "I", "type": "quantitative", "title": "I/μA"}, "text": {"field": "t"}}},
   {"data": {"name": "notes"}, "transform": [{"filter": "datum.p == 'B' && datum.k == 'sup'"}], "mark": {"type": "text", "font": "Liberation Serif", "fontWeight": "bold", "fontSize": 17, "align": "left", "baseline": "alphabetic", "color": "#111"},
    "encoding": {"x": {"field": "E", "type": "quantitative", "title": "E/V"}, "y": {"field": "I", "type": "quantitative", "title": "I/μA"}, "text": {"field": "t"}}},
   {"data": {"name": "notes"}, "transform": [{"filter": "datum.p == 'B' && datum.k == 'wave'"}], "mark": {"type": "text", "font": "Liberation Sans", "fontSize": 10, "align": "left", "baseline": "middle", "color": "#e00000"},
    "encoding": {"x": {"field": "E", "type": "quantitative", "title": "E/V"}, "y": {"field": "I", "type": "quantitative", "title": "I/μA"}, "text": {"field": "t"}}}
  ]}
 ], "spacing": 98, "bounds": "flush", "resolve": {"scale": {"color": "independent"}, "legend": {"color": "independent"}}},
 {"vconcat": [
  {"hconcat": [
   {"width": 499, "height": 365, "layer": [
    {"data": {"name": "curves"}, "transform": [{"filter": "datum.p == 'C'"}], "mark": {"type": "line", "clip": true, "strokeWidth": 2.4},
     "encoding": {
      "x": {"field": "E", "type": "quantitative", "title": "E/V", "scale": {"domain": [-0.5, 1.6], "nice": false, "zero": false}, "axis": {"values": [-0.5,-0.25,0,0.25,0.5,0.75,1,1.25,1.5], "labelExpr": "datum.value * 2 == round(datum.value * 2) ? replace(format(datum.value, '.1f'), '−', '-') : ''", "tickSize": {"condition": {"test": "datum.value * 2 == round(datum.value * 2)", "value": 6}, "value": 3}}},
      "y": {"field": "I", "type": "quantitative", "title": "I/μA", "scale": {"domain": [-68, 170], "nice": false, "zero": false}, "axis": {"values": [-50,-25,0,25,50,75,100,125,150], "labelExpr": "datum.value % 50 == 0 ? '' + datum.value : ''", "tickSize": {"condition": {"test": "datum.value % 50 == 0", "value": 6}, "value": 3}}},
      "color": {"field": "s", "type": "nominal", "scale": {"domain": ["net","ox","red"], "range": ["#000000","#ff0000","#0000ff"]}, "legend": {"orient": "none", "legendX": 252, "legendY": 69.5, "title": null}}}},
    {"data": {"name": "marks"}, "transform": [{"filter": "datum.p == 'C'"}], "mark": {"type": "rule", "color": "#000", "strokeWidth": 1.2},
     "encoding": {"x": {"field": "E", "type": "quantitative", "title": "E/V"}, "y": {"field": "I", "type": "quantitative", "title": "I/μA"}, "y2": {"field": "I2"}}},
    {"data": {"name": "notes"}, "transform": [{"filter": "datum.p == 'C' && datum.k == 'big'"}], "mark": {"type": "text", "font": "Liberation Serif", "fontWeight": "bold", "fontSize": 28, "align": "left", "baseline": "alphabetic", "color": "#111"},
     "encoding": {"x": {"field": "E", "type": "quantitative", "title": "E/V"}, "y": {"field": "I", "type": "quantitative", "title": "I/μA"}, "text": {"field": "t"}}},
    {"data": {"name": "notes"}, "transform": [{"filter": "datum.p == 'C' && datum.k == 'sup'"}], "mark": {"type": "text", "font": "Liberation Serif", "fontWeight": "bold", "fontSize": 17, "align": "left", "baseline": "alphabetic", "color": "#111"},
     "encoding": {"x": {"field": "E", "type": "quantitative", "title": "E/V"}, "y": {"field": "I", "type": "quantitative", "title": "I/μA"}, "text": {"field": "t"}}},
    {"data": {"name": "notes"}, "transform": [{"filter": "datum.p == 'C' && datum.k == 'wave'"}], "mark": {"type": "text", "font": "Liberation Sans", "fontSize": 10, "align": "left", "baseline": "middle", "color": "#e00000"},
     "encoding": {"x": {"field": "E", "type": "quantitative", "title": "E/V"}, "y": {"field": "I", "type": "quantitative", "title": "I/μA"}, "text": {"field": "t"}}}
   ]},
   {"width": 497, "height": 365, "layer": [
    {"data": {"name": "curves"}, "transform": [{"filter": "datum.p == 'D'"}], "mark": {"type": "line", "clip": true, "strokeWidth": 2.4},
     "encoding": {
      "x": {"field": "E", "type": "quantitative", "title": "E/V", "scale": {"domain": [-0.5, 1.6], "nice": false, "zero": false}, "axis": {"values": [-0.5,-0.25,0,0.25,0.5,0.75,1,1.25,1.5], "labelExpr": "datum.value * 2 == round(datum.value * 2) ? replace(format(datum.value, '.1f'), '−', '-') : ''", "tickSize": {"condition": {"test": "datum.value * 2 == round(datum.value * 2)", "value": 6}, "value": 3}}},
      "y": {"field": "I", "type": "quantitative", "title": "I/μA", "scale": {"domain": [-50, 150], "nice": false, "zero": false}, "axis": {"values": [-50,-25,0,25,50,75,100,125,150], "labelExpr": "datum.value % 50 == 0 ? '' + datum.value : ''", "tickSize": {"condition": {"test": "datum.value % 50 == 0", "value": 6}, "value": 3}}},
      "color": {"field": "s", "type": "nominal", "scale": {"domain": ["net","ox","red"], "range": ["#000000","#ff0000","#0000ff"]}, "legend": {"orient": "none", "legendX": 235, "legendY": 63.5, "title": null}}}},
    {"data": {"name": "notes"}, "transform": [{"filter": "datum.p == 'D' && datum.k == 'big'"}], "mark": {"type": "text", "font": "Liberation Serif", "fontWeight": "bold", "fontSize": 28, "align": "left", "baseline": "alphabetic", "color": "#111"},
     "encoding": {"x": {"field": "E", "type": "quantitative", "title": "E/V"}, "y": {"field": "I", "type": "quantitative", "title": "I/μA"}, "text": {"field": "t"}}},
    {"data": {"name": "notes"}, "transform": [{"filter": "datum.p == 'D' && datum.k == 'sup'"}], "mark": {"type": "text", "font": "Liberation Serif", "fontWeight": "bold", "fontSize": 17, "align": "left", "baseline": "alphabetic", "color": "#111"},
     "encoding": {"x": {"field": "E", "type": "quantitative", "title": "E/V"}, "y": {"field": "I", "type": "quantitative", "title": "I/μA"}, "text": {"field": "t"}}},
    {"data": {"name": "notes"}, "transform": [{"filter": "datum.p == 'D' && datum.k == 'wave'"}], "mark": {"type": "text", "font": "Liberation Sans", "fontSize": 10, "align": "left", "baseline": "middle", "color": "#e00000"},
     "encoding": {"x": {"field": "E", "type": "quantitative", "title": "E/V"}, "y": {"field": "I", "type": "quantitative", "title": "I/μA"}, "text": {"field": "t"}}}
   ]}
  ], "spacing": 98, "bounds": "flush", "resolve": {"scale": {"color": "independent"}, "legend": {"color": "independent"}}},
  {"hconcat": [
   {"width": 499, "height": 366, "layer": [
    {"data": {"name": "curves"}, "transform": [{"filter": "datum.p == 'E'"}], "mark": {"type": "line", "clip": true, "strokeWidth": 2.4},
     "encoding": {
      "x": {"field": "E", "type": "quantitative", "title": "E/V", "scale": {"domain": [-0.5, 1.6], "nice": false, "zero": false}, "axis": {"values": [-0.5,-0.25,0,0.25,0.5,0.75,1,1.25,1.5], "labelExpr": "datum.value * 2 == round(datum.value * 2) ? replace(format(datum.value, '.1f'), '−', '-') : ''", "tickSize": {"condition": {"test": "datum.value * 2 == round(datum.value * 2)", "value": 6}, "value": 3}}},
      "y": {"field": "I", "type": "quantitative", "title": "I/μA", "scale": {"domain": [-25, 75], "nice": false, "zero": false}, "axis": {"values": [-25,-12.5,0,12.5,25,37.5,50,62.5,75], "labelExpr": "datum.value % 25 == 0 ? '' + datum.value : ''", "tickSize": {"condition": {"test": "datum.value % 25 == 0", "value": 6}, "value": 3}}},
      "color": {"field": "s", "type": "nominal", "scale": {"domain": ["net","ox","red"], "range": ["#000000","#ff0000","#0000ff"]}, "legend": {"orient": "none", "legendX": 62, "legendY": 43.5, "title": null}}}},
    {"data": {"name": "notes"}, "transform": [{"filter": "datum.p == 'E' && datum.k == 'big'"}], "mark": {"type": "text", "font": "Liberation Serif", "fontWeight": "bold", "fontSize": 28, "align": "left", "baseline": "alphabetic", "color": "#111"},
     "encoding": {"x": {"field": "E", "type": "quantitative", "title": "E/V"}, "y": {"field": "I", "type": "quantitative", "title": "I/μA"}, "text": {"field": "t"}}},
    {"data": {"name": "notes"}, "transform": [{"filter": "datum.p == 'E' && datum.k == 'sup'"}], "mark": {"type": "text", "font": "Liberation Serif", "fontWeight": "bold", "fontSize": 17, "align": "left", "baseline": "alphabetic", "color": "#111"},
     "encoding": {"x": {"field": "E", "type": "quantitative", "title": "E/V"}, "y": {"field": "I", "type": "quantitative", "title": "I/μA"}, "text": {"field": "t"}}},
    {"data": {"name": "notes"}, "transform": [{"filter": "datum.p == 'E' && datum.k == 'wave'"}], "mark": {"type": "text", "font": "Liberation Sans", "fontSize": 10, "align": "left", "baseline": "middle", "color": "#e00000"},
     "encoding": {"x": {"field": "E", "type": "quantitative", "title": "E/V"}, "y": {"field": "I", "type": "quantitative", "title": "I/μA"}, "text": {"field": "t"}}}
   ]},
   {"width": 497, "height": 366, "layer": [
    {"data": {"name": "curves"}, "transform": [{"filter": "datum.p == 'F'"}], "mark": {"type": "line", "clip": true, "strokeWidth": 2.4},
     "encoding": {
      "x": {"field": "E", "type": "quantitative", "title": "E/V", "scale": {"domain": [-0.5, 1.6], "nice": false, "zero": false}, "axis": {"values": [-0.5,-0.25,0,0.25,0.5,0.75,1,1.25,1.5], "labelExpr": "datum.value * 2 == round(datum.value * 2) ? replace(format(datum.value, '.1f'), '−', '-') : ''", "tickSize": {"condition": {"test": "datum.value * 2 == round(datum.value * 2)", "value": 6}, "value": 3}}},
      "y": {"field": "I", "type": "quantitative", "title": "I/μA", "scale": {"domain": [-20, 60], "nice": false, "zero": false}, "axis": {"values": [-20,-10,0,10,20,30,40,50,60], "labelExpr": "datum.value % 20 == 0 ? '' + datum.value : ''", "tickSize": {"condition": {"test": "datum.value % 20 == 0", "value": 6}, "value": 3}}},
      "color": {"field": "s", "type": "nominal", "scale": {"domain": ["net","ox","red"], "range": ["#000000","#ff0000","#0000ff"]}, "legend": {"orient": "none", "legendX": 62, "legendY": 60.5, "title": null}}}},
    {"data": {"name": "notes"}, "transform": [{"filter": "datum.p == 'F' && datum.k == 'big'"}], "mark": {"type": "text", "font": "Liberation Serif", "fontWeight": "bold", "fontSize": 28, "align": "left", "baseline": "alphabetic", "color": "#111"},
     "encoding": {"x": {"field": "E", "type": "quantitative", "title": "E/V"}, "y": {"field": "I", "type": "quantitative", "title": "I/μA"}, "text": {"field": "t"}}},
    {"data": {"name": "notes"}, "transform": [{"filter": "datum.p == 'F' && datum.k == 'sup'"}], "mark": {"type": "text", "font": "Liberation Serif", "fontWeight": "bold", "fontSize": 17, "align": "left", "baseline": "alphabetic", "color": "#111"},
     "encoding": {"x": {"field": "E", "type": "quantitative", "title": "E/V"}, "y": {"field": "I", "type": "quantitative", "title": "I/μA"}, "text": {"field": "t"}}},
    {"data": {"name": "notes"}, "transform": [{"filter": "datum.p == 'F' && datum.k == 'wave'"}], "mark": {"type": "text", "font": "Liberation Sans", "fontSize": 10, "align": "left", "baseline": "middle", "color": "#e00000"},
     "encoding": {"x": {"field": "E", "type": "quantitative", "title": "E/V"}, "y": {"field": "I", "type": "quantitative", "title": "I/μA"}, "text": {"field": "t"}}}
   ]}
  ], "spacing": 98, "bounds": "flush", "resolve": {"scale": {"color": "independent"}, "legend": {"color": "independent"}}}
 ], "spacing": 100, "resolve": {"scale": {"color": "independent"}, "legend": {"color": "independent"}}}
]
}
